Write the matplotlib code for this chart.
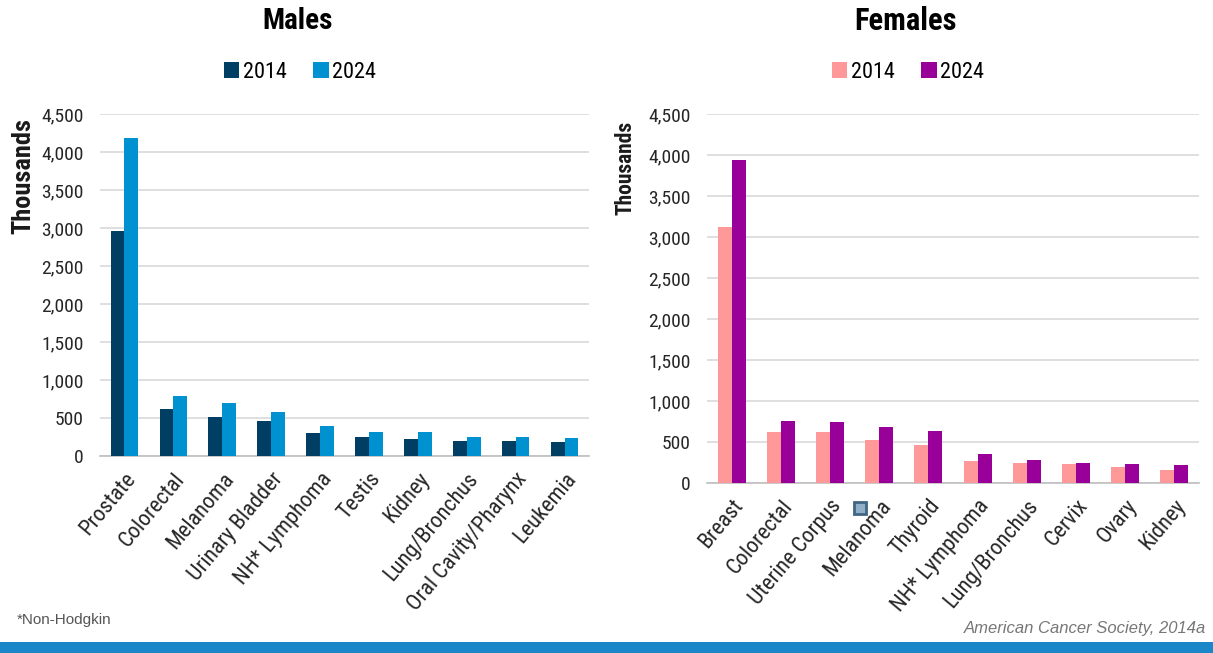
import matplotlib
matplotlib.use('Agg')
import matplotlib.pyplot as plt
from matplotlib.patches import Rectangle, Patch
from matplotlib.ticker import FuncFormatter
import numpy as np

plt.rcParams['font.family'] = ['Roboto Condensed', 'Liberation Sans', 'DejaVu Sans']

male_sites = ['Prostate', 'Colorectal', 'Melanoma', 'Urinary Bladder', 'NH* Lymphoma',
              'Testis', 'Kidney', 'Lung/Bronchus', 'Oral Cavity/Pharynx', 'Leukemia']
male_2014 = [2965, 622, 517, 456, 302, 246, 228, 202, 202, 180]
male_2024 = [4180, 794, 697, 583, 390, 320, 316, 246, 246, 232]

female_sites = ['Breast', 'Colorectal', 'Uterine Corpus', 'Melanoma', 'Thyroid',
                'NH* Lymphoma', 'Lung/Bronchus', 'Cervix', 'Ovary', 'Kidney']
female_2014 = [3122, 619, 619, 525, 464, 269, 240, 228, 196, 159]
female_2024 = [3940, 757, 750, 688, 640, 354, 286, 240, 232, 216]

years = ['2014', '2024']
yticks = [0, 500, 1000, 1500, 2000, 2500, 3000, 3500, 4000, 4500]

W, H = 1213, 653
fig = plt.figure(figsize=(W / 100, H / 100), dpi=100)


def px_axes(x0, y0, x1, y1):
    return fig.add_axes([x0 / W, 1 - y1 / H, (x1 - x0) / W, (y1 - y0) / H])


def draw_panel(ax, sites, v1, v2, c1, c2):
    x = np.arange(len(sites))
    bw = 0.283
    ax.bar(x - bw / 2, v1, bw, color=c1, zorder=3)
    ax.bar(x + bw / 2, v2, bw, color=c2, zorder=3)
    ax.set_xlim(-0.5, len(sites) - 0.5)
    ax.set_ylim(0, 4500)
    ax.set_yticks(yticks)
    ax.yaxis.set_major_formatter(FuncFormatter(lambda v, p: f'{int(v):,}'))
    ax.grid(axis='y', color='#d9d9d9', linewidth=1.2, zorder=0)
    for s in ['left', 'right', 'top']:
        ax.spines[s].set_visible(False)
    ax.spines['bottom'].set_color('#bfbfbf')
    ax.spines['bottom'].set_linewidth(1.2)
    ax.tick_params(axis='both', length=0, labelsize=14, colors='#262626')
    ax.tick_params(axis='y', pad=12)
    ax.set_xticks(x)
    ax.set_xticklabels(sites, rotation=50, ha='right', rotation_mode='anchor', fontsize=16)
    ax.tick_params(axis='x', pad=9)


ax1 = px_axes(100, 114, 589, 456)
draw_panel(ax1, male_sites, male_2014, male_2024, '#003f63', '#0091d1')

ax2 = px_axes(707, 114, 1199, 483)
draw_panel(ax2, female_sites, female_2014, female_2024, '#ff9999', '#990099')

fig.text(23 / W, 1 - 176 / H, 'Thousands', rotation=90, ha='center', va='center',
         fontsize=19, fontweight='bold', color='#1a1a1a')
fig.text(625 / W, 1 - 168 / H, 'Thousands', rotation=90, ha='center', va='center',
         fontsize=15.5, fontweight='bold', color='#1a1a1a')

fig.text(298 / W, 1 - 21 / H, 'Males', ha='center', va='center', fontsize=21, fontweight='bold')
fig.text(906 / W, 1 - 21 / H, 'Females', ha='center', va='center', fontsize=22, fontweight='bold')

for cx, cols in [(300, ['#003f63', '#0091d1']), (908, ['#ff9999', '#990099'])]:
    handles = [Patch(facecolor=c, edgecolor='none') for c in cols]
    fig.legend(handles, years, loc='center', bbox_to_anchor=(cx / W, 1 - 72 / H),
               ncol=2, frameon=False, fontsize=16, handlelength=0.7, handleheight=0.7,
               handletextpad=0.15, columnspacing=1.2)

fig.text(17 / W, 1 - 620 / H, '*Non-Hodgkin', ha='left', va='center', fontsize=11,
         color='#555555', family=['Liberation Sans', 'DejaVu Sans'])
fig.text(1206 / W, 1 - 628 / H, 'American Cancer Society, 2014a', ha='right', va='center',
         fontsize=12, color='#777777', style='italic', family=['Liberation Sans', 'DejaVu Sans'])

# blue strip at the bottom
fig.patches.append(Rectangle((0, 0), 1, (H - 642) / H, transform=fig.transFigure,
                             facecolor='#1b87c9', edgecolor='none'))
# small square artifact near the Melanoma label
fig.patches.append(Rectangle((854 / W, 1 - 514 / H), 12 / W, 12 / H, transform=fig.transFigure,
                             facecolor='#8fb0c8', edgecolor='#3f6684', linewidth=2))

fig.savefig('out.png', dpi=100)
